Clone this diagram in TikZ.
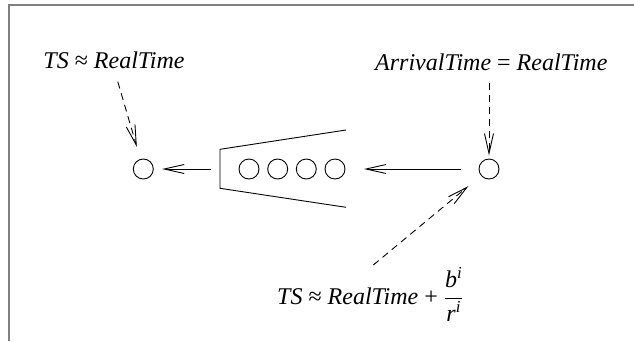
\documentclass[tikz,border=0pt]{standalone}
\usepackage{fontspec}
\setmainfont{Liberation Serif}
\usetikzlibrary{arrows.meta}
\begin{document}
\begin{tikzpicture}[x=1pt,y=-1pt,
  lbl/.style={font=\fontsize{24}{28}\selectfont\itshape, inner sep=0pt},
  pkt/.style={draw, circle, minimum size=20pt, inner sep=0pt, line width=0.9pt},
  flow/.style={line width=0.9pt, -{Straight Barb[length=20pt,width=9pt,line width=0.9pt]}},
  hint/.style={flow, dash pattern=on 7pt off 5pt},
  frame/.style={draw=black!50, line width=1.6pt}
]
\useasboundingbox (0,0) rectangle (634,341);
\draw[frame] (9,341) -- (9,5) -- (634,5);

% packets: departed, queued, arriving
\node[pkt] (c0) at (143.3,169) {};
\node[pkt] (q1) at (249,169) {};
\node[pkt] (q2) at (277.7,169) {};
\node[pkt] (q3) at (306.3,169) {};
\node[pkt] (q4) at (335,169) {};
\node[pkt] (cR) at (489,169) {};

% queue outline
\coordinate (qTR) at (346,130);
\coordinate (qTL) at (220,149.3);
\coordinate (qBL) at (220,188.3);
\coordinate (qBR) at (346,207.3);
\coordinate (qL) at (220,169);
\coordinate (qR) at (346,169);
\draw[line width=0.9pt] (qTR) -- (qTL) -- (qBL) -- (qBR);

% labels
\node[lbl, anchor=base] (t1) at (114,68.3) {TS {\upshape ≈} RealTime};
\node[lbl, anchor=base] (t2) at (491.3,70) {ArrivalTime {\upshape =} RealTime};
\node[lbl, anchor=base west] (t3) at (277,304)
  {TS {\upshape ≈} RealTime {\upshape +} $\displaystyle\frac{\mbox{\itshape b\textsuperscript{i}}}{\mbox{\itshape r\textsuperscript{i}}}$};
\coordinate (tail) at (373.3,265);

% flow of packets
\draw[flow, shorten <=9pt, shorten >=8.4pt] (qL) -- (c0);
\draw[flow, shorten <=18pt, shorten >=18pt] (cR) -- (qR);

% timestamp annotations
\draw[hint, shorten <=13.5pt, shorten >=12.6pt] (t1.south) -- (c0);
\draw[hint, shorten <=12.7pt, shorten >=3pt] (t2.south -| cR) -- (cR.north);
\draw[hint, shorten >=16.4pt] (tail) -- (cR);
\end{tikzpicture}
\end{document}
